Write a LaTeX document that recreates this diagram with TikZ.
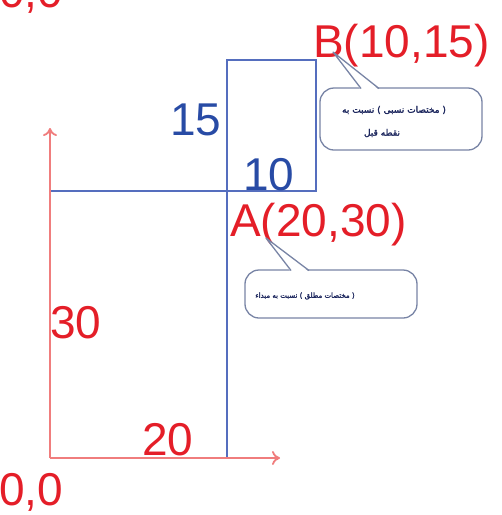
\documentclass[tikz,border=0pt]{standalone}
\usepackage{fontspec}
\usetikzlibrary{arrows.meta}
\setmainfont{Liberation Sans}
\newfontfamily\arabicfont[Script=Arabic,FakeBold=2]{DejaVu Sans}
\TeXXeTstate=1
\definecolor{axisred}{RGB}{240,125,125}
\definecolor{txtred}{RGB}{228,30,40}
\definecolor{lineblue}{RGB}{85,110,190}
\definecolor{txtblue}{RGB}{40,75,165}
\definecolor{boxline}{RGB}{120,132,165}
\definecolor{arabtxt}{RGB}{30,40,95}
\begin{document}
\begin{tikzpicture}[x=1pt,y=-1pt,
  axisarrow/.style={draw=axisred,line width=1.8pt,-{To[length=8pt,width=14pt]}},
  blueline/.style={draw=lineblue,line width=1.4pt},
  redlabel/.style={text=txtred,font=\fontsize{46}{46}\selectfont,inner sep=0pt,anchor=base west},
  bluelabel/.style={text=txtblue,font=\fontsize{46}{46}\selectfont,inner sep=0pt,anchor=base west},
  callbox/.style={draw=boxline,line width=1.3pt,fill=white,rounded corners=14pt},
  arab/.style={text=arabtxt,inner sep=0pt,align=center}
]
\useasboundingbox (0,0) rectangle (502,515);
% coordinates
\coordinate (O) at (50,458);
\coordinate (Ytip) at (50,128);
\coordinate (Xtip) at (280,458);
\coordinate (Yl) at (50,191);
\coordinate (Abot) at (227,458);
\coordinate (A) at (227,191);
\coordinate (Rtl) at (227,60);
\coordinate (Rtr) at (316,60);
\coordinate (Rbr) at (316,191);
% blue construction lines
\draw[blueline] (Yl) -- (Rbr) -- (Rtr) -- (Rtl) -- (Abot);
% red axes
\draw[axisarrow] (O) -- (Ytip);
\draw[axisarrow] (O) -- (Xtip);
% labels
\node[redlabel] (ozt) at (-1,7) {0,0};
\node[redlabel] (B) at (313,57) {B(10,15)};
\node[bluelabel] (n15) at (170,135) {15};
\node[bluelabel] (n10) at (243,190) {10};
\node[redlabel] (Alab) at (230,236) {A(20,30)};
\node[redlabel] (n30) at (50,338) {30};
\node[redlabel] (n20) at (142,455) {20};
\node[redlabel] (ozb) at (-1,505) {0,0};
% callout 1
\node[callbox,minimum width=162pt,minimum height=62pt] (c1) at (401,119) {};
\coordinate (t1) at (333,52);
\fill[white] (t1) -- (361,90) -- (379,90) -- cycle;
\draw[draw=boxline,line width=1.3pt,line join=round] (361,88.5) -- (t1) -- (379,88.5);
\node[arab,font=\arabicfont\fontsize{9}{10}\selectfont] (c1a) at (394,110) {\beginR( مختصات نسبی ) نسبت به\endR};
\node[arab,font=\arabicfont\fontsize{9}{10}\selectfont] (c1b) at (382,133) {\beginR نقطه قبل\endR};
% callout 2
\node[callbox,minimum width=172pt,minimum height=48pt] (c2) at (331,294) {};
\coordinate (t2) at (266,238);
\fill[white] (t2) -- (291,272) -- (309,272) -- cycle;
\draw[draw=boxline,line width=1.3pt,line join=round] (291,270.5) -- (t2) -- (309,270.5);
\node[arab,font=\arabicfont\fontsize{7}{8}\selectfont] (c2a) at (305,296) {\beginR( مختصات مطلق ) نسبت به مبداء\endR};
\end{tikzpicture}
\end{document}
